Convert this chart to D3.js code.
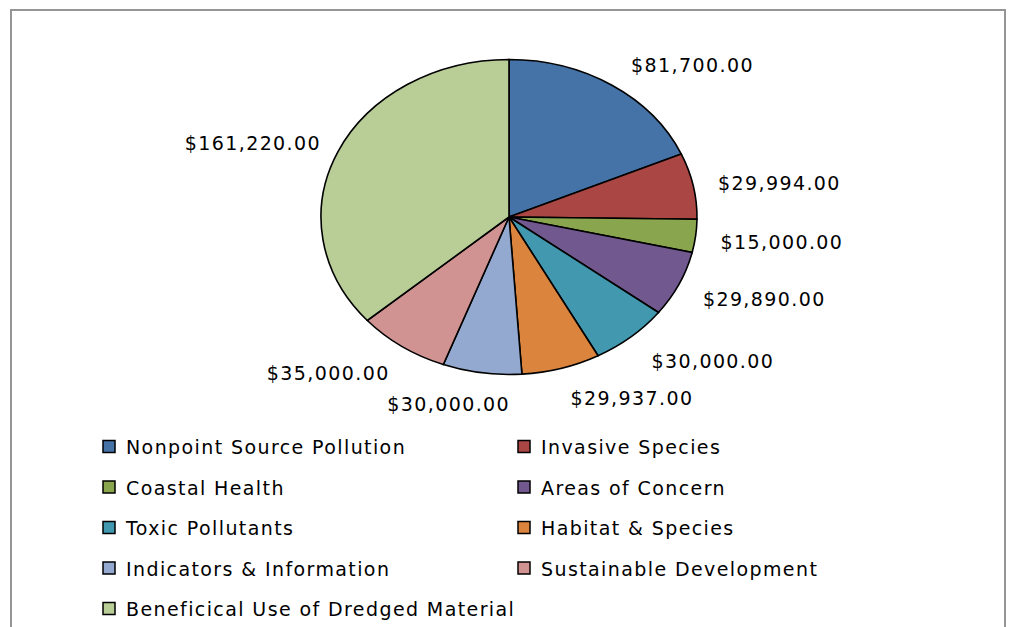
<!DOCTYPE html>
<html>
<head>
<meta charset="utf-8">
<script src="https://cdn.jsdelivr.net/npm/d3@7"></script>
<style>
  body { margin: 0; background: #fff; }
  svg text { font-family: "DejaVu Sans", sans-serif; fill: #000; font-size: 19px; letter-spacing: 1.4px; }
</style>
</head>
<body>
<svg width="1013" height="627"></svg>
<script>
const categories = [
    "Nonpoint Source Pollution",
    "Invasive Species",
    "Coastal Health",
    "Areas of Concern",
    "Toxic Pollutants",
    "Habitat & Species",
    "Indicators & Information",
    "Sustainable Development",
    "Beneficical Use of Dredged Material"
];
const values = [81700, 29994, 15000, 29890, 30000, 29937, 30000, 35000, 161220];
const colors = ["#4572A7", "#AA4643", "#89A54E", "#71588F", "#4198AF",
                "#DB843D", "#93A9CF", "#D19392", "#B9CD96"];

const svg = d3.select("svg");

// chart frame (bottom edge falls outside the picture)
svg.append("path")
    .attr("d", "M11,640 L11,10 L1005,10 L1005,640")
    .attr("fill", "none")
    .attr("stroke", "#959595")
    .attr("stroke-width", 2);

const cx = 509, cy = 217, rx = 188, ry = 157.5;

const pie = d3.pie().sort(null).value(d => d);
const arcs = pie(values);

const arc = d3.arc().innerRadius(0).outerRadius(rx);

const g = svg.append("g")
    .attr("transform", `translate(${cx},${cy}) scale(1,${ry / rx})`);

g.selectAll("path")
    .data(arcs)
    .join("path")
    .attr("d", arc)
    .attr("fill", (d, i) => colors[i])
    .attr("stroke", "#000")
    .attr("stroke-width", 1.6)
    .attr("vector-effect", "non-scaling-stroke");

// data labels, outside end
const fmt = d3.format("$,.2f");
const labels = svg.append("g");
arcs.forEach(d => {
    const a = (d.startAngle + d.endAngle) / 2;
    const s = Math.sin(a), c = Math.cos(a);
    const t = Math.max(-1, Math.min(1, s * 3.3));
    const gap = s > 0 ? 12 : 5;
    const txt = labels.append("text")
        .attr("text-anchor", "middle")
        .attr("dominant-baseline", "central")
        .text(fmt(d.data));
    const w = txt.node().getComputedTextLength();
    const px = cx + (rx + 13) * s + t * (w / 2 + gap);
    const py = cy + 3 - (ry + 28) * c;
    txt.attr("x", px).attr("y", py);
});

// legend
const legend = svg.append("g");
const colX = [103, 518];
const rowY = 447, rowH = 40.5;
categories.forEach((name, i) => {
    const x = colX[i % 2];
    const y = rowY + Math.floor(i / 2) * rowH;
    legend.append("rect")
        .attr("x", x).attr("y", y - 6.5)
        .attr("width", 12).attr("height", 12)
        .attr("fill", colors[i])
        .attr("stroke", "#000")
        .attr("stroke-width", 1.5);
    legend.append("text")
        .attr("x", x + 23).attr("y", y)
        .attr("dominant-baseline", "central")
        .text(name);
});
</script>
</body>
</html>
